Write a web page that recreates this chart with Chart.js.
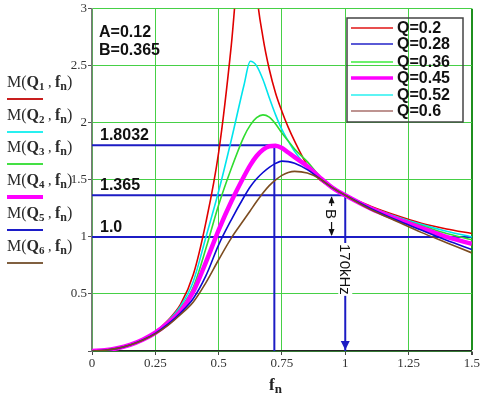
<!DOCTYPE html>
<html>
<head>
<meta charset="utf-8">
<script src="https://cdn.jsdelivr.net/npm/chart.js@4/dist/chart.umd.min.js"></script>
<style>
  html, body { margin: 0; padding: 0; background: #fff; }
  #wrap { width: 481px; height: 399px; }
</style>
</head>
<body>
<div id="wrap"><canvas id="chart" width="481" height="399"></canvas></div>
<script>
// Data
const fnValues = [0, 0.05, 0.1, 0.15, 0.2, 0.25, 0.3, 0.35, 0.4, 0.45, 0.5, 0.55, 0.6, 0.625, 0.65, 0.675, 0.7, 0.725, 0.75, 0.775, 0.8, 0.85, 0.9, 0.95, 1, 1.1, 1.2, 1.3, 1.4, 1.5];
const gainQ1 = [0, 0.006, 0.024, 0.055, 0.103, 0.17, 0.27, 0.41, 0.67, 1.13, 1.74, 2.68, 3.9, 4.0, 3.15, 2.75, 2.47, 2.26, 2.1, 1.96, 1.84, 1.63, 1.50, 1.43, 1.365, 1.27, 1.19, 1.12, 1.07, 1.03];
const gainQ2 = [0, 0.006, 0.024, 0.055, 0.102, 0.168, 0.263, 0.395, 0.61, 1.0, 1.40, 1.85, 2.33, 2.54, 2.50, 2.38, 2.22, 2.07, 1.94, 1.84, 1.75, 1.61, 1.51, 1.43, 1.365, 1.26, 1.18, 1.11, 1.05, 1.0];
const gainQ3 = [0, 0.006, 0.024, 0.055, 0.101, 0.165, 0.258, 0.375, 0.56, 0.90, 1.28, 1.60, 1.88, 1.98, 2.045, 2.07, 2.05, 1.99, 1.91, 1.84, 1.77, 1.66, 1.53, 1.44, 1.365, 1.26, 1.17, 1.10, 1.03, 0.975];
const gainQ4 = [0, 0.006, 0.024, 0.054, 0.099, 0.16, 0.245, 0.35, 0.52, 0.78, 1.06, 1.31, 1.53, 1.63, 1.71, 1.765, 1.795, 1.80, 1.78, 1.74, 1.70, 1.62, 1.52, 1.43, 1.365, 1.25, 1.16, 1.08, 1.0, 0.94];
const gainQ5 = [0, 0.006, 0.023, 0.053, 0.097, 0.155, 0.235, 0.335, 0.46, 0.66, 0.93, 1.15, 1.35, 1.44, 1.51, 1.565, 1.61, 1.645, 1.665, 1.66, 1.645, 1.59, 1.51, 1.43, 1.365, 1.25, 1.15, 1.06, 0.97, 0.89];
const gainQ6 = [0, 0.006, 0.023, 0.052, 0.095, 0.15, 0.225, 0.32, 0.43, 0.60, 0.80, 0.99, 1.15, 1.23, 1.31, 1.385, 1.45, 1.50, 1.54, 1.565, 1.575, 1.56, 1.51, 1.43, 1.365, 1.24, 1.14, 1.04, 0.95, 0.86];

const xTickLabels = ['0', '0.25', '0.5', '0.75', '1', '1.25', '1.5'];
const yTickLabels = ['', '0.5', '1', '1.5', '2', '2.5', '3'];
const qLabels = ['Q=0.2', 'Q=0.28', 'Q=0.36', 'Q=0.45', 'Q=0.52', 'Q=0.6'];
const paramLabels = ['A=0.12', 'B=0.365'];

// marker levels (blue guide lines)
const peakLevel = 1.8032;
const peakFn = 0.72;
const crossLevel = 1.365;
const unityLevel = 1.0;
const markFn = 1.0;
const bMarkFn = 0.946;
const levelLabels = ['1.8032', '1.365', '1.0'];

// styles
const curveColors = ['#e00000', '#00e4ec', '#30dc30', '#ff00ff', '#0c0cd0', '#7c4c20'];
const curveWidths = [1.6, 1.6, 1.6, 4.5, 1.6, 1.6];
const legendColors = ['#e01414', '#2323c8', '#3cec3c', '#ff00ff', '#28f0f0', '#a8706c'];
const leftLineColors = ['#c81e1e', '#28f0f0', '#44e044', '#ff00ff', '#1c1cc8', '#806040'];
const guideBlue = '#1c1cc4';

const allGains = [gainQ1, gainQ2, gainQ3, gainQ4, gainQ5, gainQ6];

const curveSets = allGains.map((g, i) => ({
	data: fnValues.map((f, k) => ({ x: f, y: g[k] })),
	borderColor: curveColors[i],
	borderWidth: curveWidths[i],
	pointRadius: 0,
	cubicInterpolationMode: 'monotone',
	order: 6 - i
}));

function guide(points) {
	return {
		data: points,
		borderColor: guideBlue,
		borderWidth: 2,
		pointRadius: 0,
		tension: 0,
		order: 10
	};
}

const guideSets = [
	guide([{ x: 0, y: peakLevel }, { x: peakFn, y: peakLevel }, { x: peakFn, y: 0 }]),
	guide([{ x: 0, y: crossLevel }, { x: markFn, y: crossLevel }, { x: markFn, y: 0 }]),
	guide([{ x: 0, y: unityLevel }, { x: 1.5, y: unityLevel }])
];

function drawParts(ctx, parts, x, y, color) {
	ctx.fillStyle = color;
	ctx.textAlign = 'left';
	ctx.textBaseline = 'alphabetic';
	let cx = x;
	for (const p of parts) {
		ctx.font = p.f;
		ctx.fillText(p.t, cx, y + (p.dy || 0));
		cx += ctx.measureText(p.t).width;
	}
	return cx - x;
}

const serif = 'Liberation Serif';
const sans = 'Liberation Sans';

const annot = {
	id: 'annot',
	afterDatasetsDraw(chart) {
		const ctx = chart.ctx;
		const xs = chart.scales.x, ys = chart.scales.y;
		const area = chart.chartArea;
		ctx.save();

		// parameters
		ctx.fillStyle = '#111';
		ctx.font = 'bold 16px ' + sans;
		ctx.textAlign = 'left';
		ctx.textBaseline = 'alphabetic';
		ctx.fillText(paramLabels[0], 99, 37);
		ctx.fillText(paramLabels[1], 99, 55);

		// level labels
		[peakLevel, crossLevel, unityLevel].forEach((lv, i) => {
			ctx.fillText(levelLabels[i], area.left + 8, ys.getPixelForValue(lv) - 5);
		});

		// legend box (top right)
		ctx.strokeStyle = '#444';
		ctx.lineWidth = 1.5;
		ctx.strokeRect(347, 18, 116, 104);
		const rows = [28, 44, 62, 78, 95, 111];
		qLabels.forEach((q, i) => {
			ctx.strokeStyle = legendColors[i];
			ctx.lineWidth = i === 3 ? 3.5 : 1.6;
			ctx.beginPath();
			ctx.moveTo(351, rows[i]);
			ctx.lineTo(393, rows[i]);
			ctx.stroke();
			ctx.fillStyle = '#111';
			ctx.font = 'bold 16px ' + sans;
			ctx.textBaseline = 'middle';
			ctx.fillText(q, 397, rows[i] + 1);
		});

		// left side trace labels
		const lineYs = [99, 132, 164, 197, 230, 263];
		lineYs.forEach((ly, i) => {
			const parts = [
				{ t: 'M', f: '16px ' + serif },
				{ t: '(', f: '16px ' + serif },
				{ t: 'Q', f: 'bold 16px ' + serif },
				{ t: String(i + 1), f: 'bold 11px ' + serif, dy: 3 },
				{ t: ' , ', f: '14px ' + serif },
				{ t: 'f', f: 'bold 16px ' + serif },
				{ t: 'n', f: 'bold 12px ' + serif, dy: 3 },
				{ t: ')', f: '16px ' + serif }
			];
			drawParts(ctx, parts, 7, ly - 12, '#2a2a2a');
			ctx.strokeStyle = leftLineColors[i];
			ctx.lineWidth = i === 3 ? 4 : 2;
			ctx.beginPath();
			ctx.moveTo(7, ly);
			ctx.lineTo(43, ly);
			ctx.stroke();
		});

		// x axis title
		drawParts(ctx, [
			{ t: 'f', f: 'bold 17px ' + serif },
			{ t: 'n', f: 'bold 13px ' + serif, dy: 3 }
		], 269, 390, '#222');

		// arrow at bottom of 170kHz line
		const x1 = xs.getPixelForValue(markFn);
		const y0 = ys.getPixelForValue(0);
		ctx.fillStyle = guideBlue;
		ctx.beginPath();
		ctx.moveTo(x1, y0 - 1);
		ctx.lineTo(x1 - 4.5, y0 - 10);
		ctx.lineTo(x1 + 4.5, y0 - 10);
		ctx.closePath();
		ctx.fill();

		// 170kHz rotated text
		ctx.save();
		ctx.translate(x1, 244);
		ctx.rotate(Math.PI / 2);
		ctx.font = '15px ' + sans;
		const tw = ctx.measureText('170kHz').width;
		ctx.fillStyle = '#fff';
		ctx.fillRect(-1, -7, tw + 2, 14);
		ctx.fillStyle = '#111';
		ctx.textBaseline = 'middle';
		ctx.textAlign = 'left';
		ctx.fillText('170kHz', 0, 1);
		ctx.restore();

		// B dimension arrow
		const xb = xs.getPixelForValue(bMarkFn);
		const yTop = ys.getPixelForValue(crossLevel);
		const yBot = ys.getPixelForValue(unityLevel);
		const yMid = (yTop + yBot) / 2 - 2;
		ctx.strokeStyle = '#111';
		ctx.fillStyle = '#111';
		ctx.lineWidth = 1.2;
		ctx.beginPath();
		ctx.moveTo(xb, yTop + 2);
		ctx.lineTo(xb, yMid - 8);
		ctx.moveTo(xb, yMid + 8);
		ctx.lineTo(xb, yBot - 2);
		ctx.stroke();
		ctx.beginPath();
		ctx.moveTo(xb, yTop + 1);
		ctx.lineTo(xb - 3, yTop + 8);
		ctx.lineTo(xb + 3, yTop + 8);
		ctx.closePath();
		ctx.fill();
		ctx.beginPath();
		ctx.moveTo(xb, yBot - 1);
		ctx.lineTo(xb - 3, yBot - 8);
		ctx.lineTo(xb + 3, yBot - 8);
		ctx.closePath();
		ctx.fill();
		ctx.save();
		ctx.translate(xb, yMid);
		ctx.rotate(Math.PI / 2);
		ctx.font = '15px ' + sans;
		ctx.textAlign = 'center';
		ctx.textBaseline = 'middle';
		ctx.fillText('B', 0, 1);
		ctx.restore();

		ctx.restore();
	}
};

const gridGreen = '#46d046';

new Chart(document.getElementById('chart'), {
	type: 'line',
	data: { datasets: [...curveSets, ...guideSets] },
	options: {
		responsive: false,
		animation: false,
		devicePixelRatio: 1,
		layout: { padding: { left: 0, right: 8, top: 7, bottom: 0 } },
		plugins: { legend: { display: false }, tooltip: { enabled: false } },
		scales: {
			x: {
				type: 'linear',
				min: 0,
				max: 1.5,
				afterFit: s => { s.height = 48; },
				ticks: {
					stepSize: 0.25,
					padding: 1,
					color: '#333',
					font: { family: serif, size: 13 },
					maxRotation: 0,
					callback: (v, i) => xTickLabels[i]
				},
				grid: {
					color: c => c.tick && c.tick.value === 1.5 ? '#1f8f1f' : gridGreen,
					lineWidth: c => c.tick && c.tick.value === 1.5 ? 2 : 1,
					tickLength: 4,
					tickColor: '#444'
				},
				border: { color: '#222', width: 1.5 }
			},
			y: {
				type: 'linear',
				min: 0,
				max: 3,
				afterFit: s => { s.width = 92; },
				ticks: {
					stepSize: 0.5,
					padding: 1,
					color: '#333',
					font: { family: serif, size: 13 },
					callback: (v, i) => yTickLabels[i]
				},
				grid: {
					color: gridGreen,
					lineWidth: 1,
					tickLength: 4,
					tickColor: '#555'
				},
				border: { color: '#777', width: 1.5 }
			}
		}
	},
	plugins: [annot]
});
</script>
</body>
</html>
